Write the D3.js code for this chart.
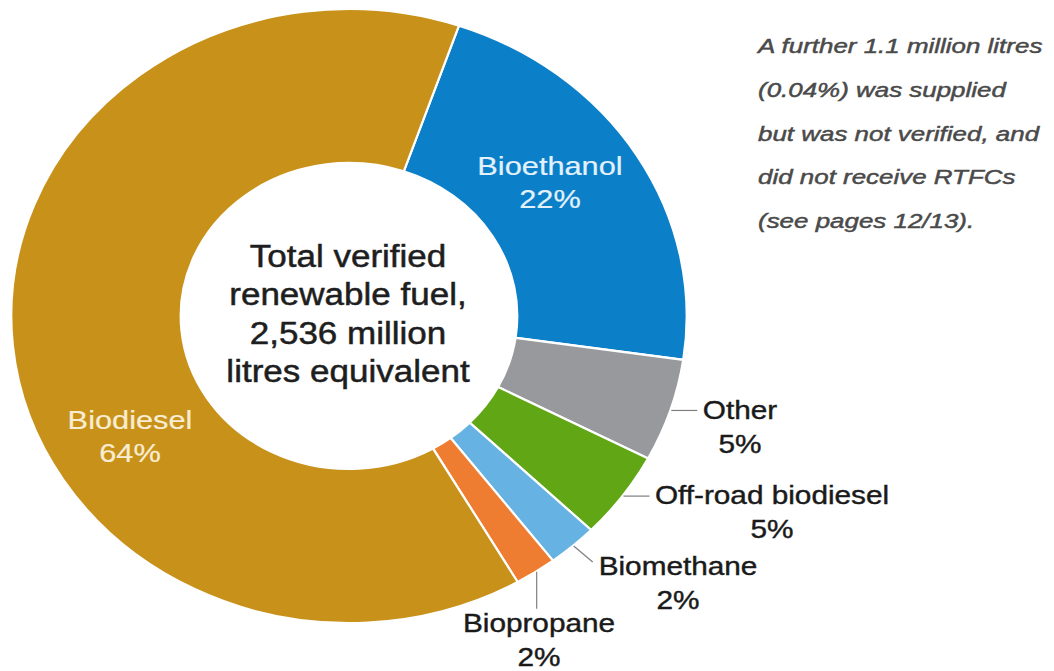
<!DOCTYPE html>
<html>
<head>
<meta charset="utf-8">
<script src="https://cdn.jsdelivr.net/npm/d3@7"></script>
<style>
  html, body { margin: 0; padding: 0; background: #ffffff; }
  svg { display: block; }
  text { font-family: "Liberation Sans", Arial, Helvetica, sans-serif; }
</style>
</head>
<body>
<svg id="chart" width="1054" height="671"></svg>
<script>
// ---------- data ----------
const categories = ["Bioethanol", "Other", "Off-road biodiesel", "Biomethane", "Biopropane", "Biodiesel"];
const shares = [22.0, 5.4, 4.6, 2.4, 2.0, 63.6];           // % of total verified renewable fuel
const shareLabels = ["22%", "5%", "5%", "2%", "2%", "64%"];
const colors = ["#0b7fc8", "#98999d", "#61a615", "#66b2e2", "#ee7c31", "#c8911a"];
const centerLines = ["Total verified", "renewable fuel,", "2,536 million", "litres equivalent"];
const noteLines = [
  "A further 1.1 million litres",
  "(0.04%) was supplied",
  "but was not verified, and",
  "did not receive RTFCs",
  "(see pages 12/13)."
];

// ---------- layout ----------
const W = 1054, H = 671;
const cx = 349, cy = 316, rOuter = 307, rInner = 153, stretch = 1.1;
const startDeg = 19;

const svg = d3.select("#chart");

const pie = d3.pie().sort(null).value(d => d.v)
  .startAngle(startDeg * Math.PI / 180)
  .endAngle(startDeg * Math.PI / 180 + 2 * Math.PI);
const data = categories.map((c, i) => ({ name: c, v: shares[i], label: shareLabels[i], color: colors[i] }));
const arcs = pie(data);
const arc = d3.arc().innerRadius(rInner).outerRadius(rOuter);

const pieG = svg.append("g").attr("transform", `translate(${cx},${cy}) scale(${stretch},1)`);
pieG.selectAll("path").data(arcs).join("path")
  .attr("d", arc)
  .attr("fill", d => d.data.color)
  .attr("stroke", "#ffffff")
  .attr("stroke-width", 2.2)
  .attr("vector-effect", "non-scaling-stroke");

// helper: image point at the outer edge at the mid-angle of a slice
function outerMid(d) {
  const a = (d.startAngle + d.endAngle) / 2;
  return [cx + stretch * rOuter * Math.sin(a), cy - rOuter * Math.cos(a)];
}

function textBlock(lines, x, y0, dy, size, sx, fill, opts = {}) {
  const g = svg.append("g");
  lines.forEach((t, i) => {
    g.append("text")
      .attr("transform", `translate(${x},${y0 + i * dy}) scale(${sx},1)`)
      .attr("text-anchor", opts.anchor || "middle")
      .attr("font-size", size)
      .attr("font-style", opts.italic ? "italic" : "normal")
      .attr("fill", fill)
      .attr("stroke", fill)
      .attr("stroke-width", opts.sw || 0.4)
      .text(t);
  });
}

// center text
textBlock(centerLines, 348, 267, 38.4, 31, 1.13, "#1e1e1e", { sw: 0.5 });

// inside labels
const insideLayout = {
  "Bioethanol": { x: 550, y: 175, fill: "#e3f1fb" },
  "Biodiesel": { x: 130, y: 429, fill: "#f8edd3" }
};
// outside labels with leaders
const outsideLayout = {
  "Other":              { lx: 26, ly: 0,  tx: 740, ty: 419 },
  "Off-road biodiesel": { lx: 26, ly: 0,  tx: 772, ty: 504 },
  "Biomethane":         { lx: 19, ly: 16, tx: 678, ty: 575 },
  "Biopropane":         { lx: 0,  ly: 37, tx: 539, ty: 632 }
};

arcs.forEach(d => {
  const name = d.data.name;
  if (insideLayout[name]) {
    const L = insideLayout[name];
    textBlock([name, d.data.label], L.x, L.y, 33, 25, 1.23, L.fill, { sw: 0.2 });
  } else if (outsideLayout[name]) {
    const L = outsideLayout[name];
    const [x0, y0] = outerMid(d);
    svg.append("line")
      .attr("x1", x0 + 1).attr("y1", y0)
      .attr("x2", x0 + 1 + L.lx).attr("y2", y0 + L.ly)
      .attr("stroke", "#7f7f7f").attr("stroke-width", 1.2);
    textBlock([name, d.data.label], L.tx, L.ty, 33.5, 25, 1.19, "#1a1a1a", { sw: 0.4 });
  }
});

// side note
textBlock(noteLines, 758, 53, 43.75, 19.5, 1.33, "#4a4a4a", { anchor: "start", italic: true, sw: 0.45 });
</script>
</body>
</html>
